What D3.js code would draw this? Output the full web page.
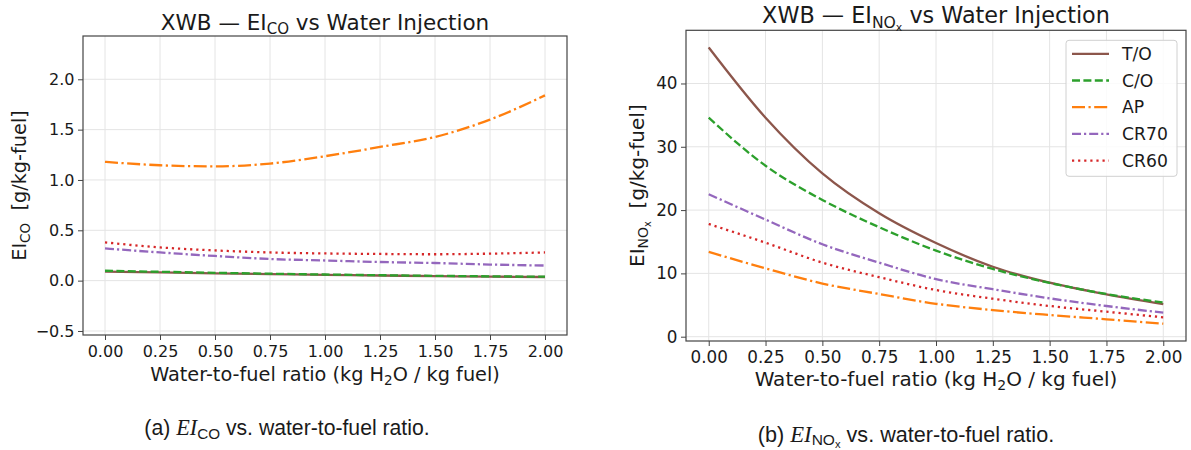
<!DOCTYPE html>
<html>
<head>
<meta charset="utf-8">
<script src="https://cdn.jsdelivr.net/npm/d3@7"></script>
<style>
  html, body { margin: 0; padding: 0; background: #fff; }
  svg { display: block; }
  text { font-family: "DejaVu Sans", sans-serif; fill: #1a1a1a; }
  text.caption { font-family: "Liberation Sans", Arial, sans-serif; }
</style>
</head>
<body>
<svg id="chart" width="1191" height="450"></svg>
<script>
// Water-to-fuel ratio samples (kg H2O / kg fuel)
const waterRatio = [0, 0.25, 0.5, 0.75, 1.0, 1.25, 1.5, 1.75, 2.0];

// Operating points
const modes = ["T/O", "C/O", "AP", "CR70", "CR60"];

// EI_CO [g/kg-fuel] per mode
const coTO   = [0.090, 0.082, 0.073, 0.065, 0.058, 0.051, 0.045, 0.040, 0.036];
const coCO   = [0.098, 0.088, 0.078, 0.069, 0.061, 0.054, 0.048, 0.043, 0.039];
const coAP   = [1.180, 1.146, 1.135, 1.163, 1.236, 1.328, 1.427, 1.600, 1.840];
const coCR70 = [0.320, 0.280, 0.245, 0.215, 0.200, 0.185, 0.175, 0.160, 0.150];
const coCR60 = [0.380, 0.330, 0.300, 0.280, 0.270, 0.265, 0.262, 0.268, 0.280];

// EI_NOx [g/kg-fuel] per mode
const noxTO   = [45.7, 34.6, 25.8, 19.5, 14.8, 11.05, 8.53, 6.69, 5.16];
const noxCO   = [34.6, 27.0, 21.6, 17.3, 13.6, 10.7, 8.50, 6.74, 5.40];
const noxAP   = [13.4, 10.8, 8.40, 6.74, 5.20, 4.20, 3.43, 2.75, 2.05];
const noxCR70 = [22.5, 18.5, 14.6, 11.7, 9.10, 7.50, 6.06, 4.85, 3.80];
const noxCR60 = [17.8, 14.85, 11.7, 9.40, 7.37, 6.00, 4.85, 3.95, 3.06];

// Tick values
const coTicksY  = [-0.5, 0, 0.5, 1.0, 1.5, 2.0];
const noxTicksY = [0, 10, 20, 30, 40];
const ratioTicks = [0, 0.25, 0.5, 0.75, 1.0, 1.25, 1.5, 1.75, 2.0];

// Line styles per mode
const modeStyle = {
  "T/O":  { color: "#8c564b", dash: null },
  "C/O":  { color: "#2ca02c", dash: "8,3.4" },
  "AP":   { color: "#ff7f0e", dash: "13,3.5,2.2,3.5" },
  "CR70": { color: "#9467bd", dash: "9,3,2.2,3" },
  "CR60": { color: "#d62728", dash: "2.2,3.9" }
};

const svg = d3.select("#chart");

// Appends "main" + subscript (+ optional second-level subscript) + "rest" to a text node.
function subText(t, main, sub, subsub, rest, fs) {
  const s1 = fs * 0.7, s2 = s1 * 0.7;
  const d1 = fs * 0.2, d2 = s1 * 0.2;
  t.append("tspan").text(main);
  t.append("tspan").attr("font-size", s1).attr("dy", d1).text(sub);
  let back = -d1;
  if (subsub) {
    t.append("tspan").attr("font-size", s2).attr("dy", d2).text(subsub);
    back = -(d1 + d2);
  }
  t.append("tspan").attr("dy", back).text(rest);
}

function panel(cfg) {
  const g = svg.append("g").attr("transform", `translate(${cfg.left},${cfg.top})`);
  const x = d3.scaleLinear().domain([-0.1, 2.1]).range([0, cfg.width]);
  const y = d3.scaleLinear().domain(cfg.yDomain).range([cfg.height, 0]);

  // grid
  g.append("g").selectAll("line").data(ratioTicks).join("line")
    .attr("x1", d => x(d)).attr("x2", d => x(d))
    .attr("y1", 0).attr("y2", cfg.height)
    .attr("stroke", "#e4e4e4").attr("stroke-width", 1);
  g.append("g").selectAll("line").data(cfg.yTicks).join("line")
    .attr("x1", 0).attr("x2", cfg.width)
    .attr("y1", d => y(d)).attr("y2", d => y(d))
    .attr("stroke", "#e4e4e4").attr("stroke-width", 1);

  // series
  const line = d3.line()
    .x((d, i) => x(waterRatio[i]))
    .y(d => y(d))
    .curve(d3.curveMonotoneX);
  modes.forEach((m, k) => {
    const st = modeStyle[m];
    g.append("path")
      .datum(cfg.series[k])
      .attr("fill", "none")
      .attr("stroke", st.color)
      .attr("stroke-width", 2.3)
      .attr("stroke-dasharray", st.dash)
      .attr("d", line);
  });

  // axes
  const ax = g.append("g").attr("transform", `translate(0,${cfg.height})`)
    .call(d3.axisBottom(x).tickValues(ratioTicks).tickFormat(d3.format(".2f")).tickSize(5).tickPadding(5.3));
  const ay = g.append("g")
    .call(d3.axisLeft(y).tickValues(cfg.yTicks).tickFormat(cfg.yFormat).tickSize(5).tickPadding(3.5));
  [ax, ay].forEach(a => {
    a.select(".domain").remove();
    a.selectAll(".tick line").attr("stroke", "#444");
    a.selectAll(".tick text").attr("font-size", cfg.tickFont).attr("font-family", "DejaVu Sans").attr("fill", "#1a1a1a");
  });

  // frame
  g.append("rect").attr("width", cfg.width).attr("height", cfg.height)
    .attr("fill", "none").attr("stroke", "#444").attr("stroke-width", 1.2);

  // title
  const t = g.append("text").attr("x", cfg.width / 2).attr("y", cfg.titleY)
    .attr("text-anchor", "middle").attr("font-size", cfg.titleFont);
  subText(t, "XWB \u2014 EI", cfg.sub, cfg.subsub, " vs Water Injection", cfg.titleFont);

  // x label
  const xl = g.append("text").attr("x", cfg.width / 2).attr("y", cfg.height + cfg.xLabelDy)
    .attr("text-anchor", "middle").attr("font-size", cfg.labelFont);
  subText(xl, "Water-to-fuel ratio (kg H", "2", null, "O / kg fuel)", cfg.labelFont);

  // y label
  const yl = g.append("text")
    .attr("transform", `translate(${cfg.yLabelX},${cfg.height / 2}) rotate(-90)`)
    .attr("text-anchor", "middle").attr("font-size", cfg.labelFont).style("white-space", "pre");
  subText(yl, "EI", cfg.sub, cfg.subsub, "  [g/kg-fuel]", cfg.labelFont);

  return { g, x, y };
}

// (a) EI_CO
panel({
  left: 83, top: 36, width: 484, height: 299,
  yDomain: [-0.54, 2.43], yTicks: coTicksY, yFormat: d3.format(".1f"),
  series: [coTO, coCO, coAP, coCR70, coCR60],
  tickFont: 16, labelFont: 19.3, titleFont: 21.5,
  sub: "CO", subsub: null,
  titleY: -6, xLabelDy: 45.8, yLabelX: -57
});

// (b) EI_NOx
const right = panel({
  left: 686, top: 30.3, width: 500, height: 310.7,
  yDomain: [-0.68, 48.4], yTicks: noxTicksY, yFormat: d3.format("d"),
  series: [noxTO, noxCO, noxAP, noxCR70, noxCR60],
  tickFont: 16.8, labelFont: 20, titleFont: 22.3,
  sub: "NO", subsub: "x",
  titleY: -7, xLabelDy: 45.3, yLabelX: -42
});

// legend
const lg = right.g.append("g").attr("transform", "translate(380,10)");
lg.append("rect").attr("width", 111).attr("height", 136).attr("rx", 3)
  .attr("fill", "#fff").attr("fill-opacity", 0.85)
  .attr("stroke", "#d0d0d0").attr("stroke-width", 1);
modes.forEach((m, i) => {
  const yy = 13.5 + i * 26.7;
  const st = modeStyle[m];
  lg.append("line").attr("x1", 6).attr("x2", 43).attr("y1", yy).attr("y2", yy)
    .attr("stroke", st.color).attr("stroke-width", 2.3).attr("stroke-dasharray", st.dash);
  lg.append("text").attr("x", 56).attr("y", yy + 6.3).attr("font-size", 17.2).text(m);
});

// captions
function caption(cx, cy, fs, label, sub, subsub) {
  const t = svg.append("text").attr("class", "caption")
    .attr("x", cx).attr("y", cy).attr("text-anchor", "middle").attr("font-size", fs)
    .style("white-space", "pre");
  t.append("tspan").text(label + " ");
  t.append("tspan").attr("font-family", "Liberation Serif, serif").attr("font-style", "italic")
    .attr("font-size", fs * 1.05).text("EI");
  const s1 = fs * 0.72, d1 = fs * 0.18;
  t.append("tspan").attr("font-size", s1).attr("dy", d1).text(sub);
  let back = -d1;
  if (subsub) {
    const d2 = s1 * 0.15;
    t.append("tspan").attr("font-size", s1 * 0.72).attr("dy", d2).text(subsub);
    back = -(d1 + d2);
  }
  t.append("tspan").attr("dy", back).text(" vs. water-to-fuel ratio.");
}
caption(287, 435, 21.2, "(a)", "CO");
caption(906, 441.5, 21.6, "(b)", "NO", "x");
</script>
</body>
</html>
